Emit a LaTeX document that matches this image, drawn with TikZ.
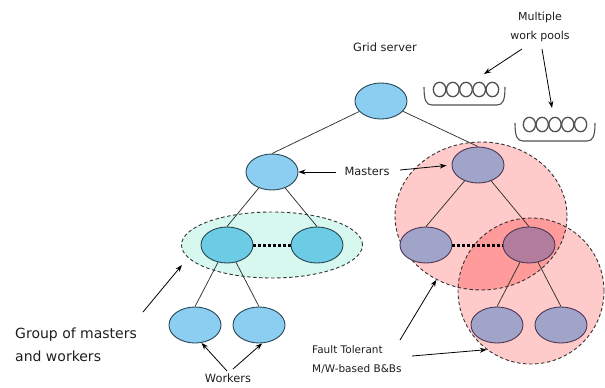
\documentclass[tikz,border=0pt]{standalone}
\usepackage{fontspec}
\setmainfont{DejaVu Sans}
\usetikzlibrary{shapes.geometric,arrows.meta}

\definecolor{skyfill}{RGB}{140,206,242}
\definecolor{cyanfill}{RGB}{108,204,230}
\definecolor{nodeline}{RGB}{40,70,85}
\definecolor{mintfill}{RGB}{214,248,238}
\definecolor{pinkfill}{RGB}{255,202,202}
\definecolor{overlapfill}{RGB}{255,155,155}
\definecolor{lilacfill}{RGB}{161,164,201}
\definecolor{mauvefill}{RGB}{178,124,156}
\definecolor{lilacline}{RGB}{75,55,85}
\definecolor{poolline}{RGB}{80,80,80}
\definecolor{inkgray}{RGB}{30,30,30}

\begin{document}
\begin{tikzpicture}[x=1pt,y=-1pt,
  every node/.style={inner sep=0pt, text=inkgray},
  host/.style={ellipse, draw=nodeline, line width=0.9pt,
    minimum width=52pt, minimum height=36pt},
  ftnode/.style={host, draw=lilacline, fill=lilacfill},
  region/.style={ellipse, draw=black!80, dashed, line width=0.9pt,
    dash pattern=on 3.5pt off 2.5pt},
  edge/.style={draw=black!80, line width=0.75pt},
  peer/.style={draw=black, line width=3pt, dash pattern=on 3pt off 2pt},
  pointer/.style={draw=black, line width=0.8pt, -{Stealth[length=7pt,width=5pt]}},
  label/.style={font=\fontsize{11.4}{13}\selectfont},
  biglabel/.style={font=\fontsize{14}{23}\selectfont},
  ball/.style={draw=poolline, line width=1.3pt},
  tray/.style={draw=poolline, line width=1.1pt}
]
\useasboundingbox (0,0) rectangle (605,388);

% fault-tolerant regions and their overlap
\node[region, fill=pinkfill, draw=none, minimum width=172pt, minimum height=148pt] (ftA) at (481,216) {};
\node[region, fill=pinkfill, draw=none, minimum width=146pt, minimum height=146pt] (ftB) at (531,291) {};
\begin{scope}
  \clip (481,216) ellipse [x radius=86, y radius=74];
  \fill[overlapfill] (531,291) ellipse [x radius=73, y radius=73];
\end{scope}
\node[region, minimum width=172pt, minimum height=148pt] at (481,216) {};
\node[region, minimum width=146pt, minimum height=146pt] at (531,291) {};

% group of masters and workers
\node[region, fill=mintfill, minimum width=181pt, minimum height=66pt] (grp) at (272,245) {};

% hosts
\node[host, fill=skyfill] (root) at (381,101) {};
\node[host, fill=skyfill] (lm) at (272,172) {};
\node[host, fill=cyanfill] (g1) at (227,245) {};
\node[host, fill=cyanfill] (g2) at (317,245) {};
\node[host, fill=skyfill] (wk1) at (195,325) {};
\node[host, fill=skyfill] (wk2) at (259,325) {};
\node[ftnode] (rm) at (478,165) {};
\node[ftnode] (f1) at (426,245) {};
\node[ftnode, fill=mauvefill] (f2) at (529,245) {};
\node[ftnode] (fb1) at (497,325) {};
\node[ftnode] (fb2) at (561,325) {};

% tree edges
\path[edge] (root) -- (lm.north);
\path[edge] (root) -- (rm.north);
\path[edge] (lm) -- (g1.north);
\path[edge] (lm) -- (g2.north);
\path[edge] (g1) -- (wk1.north);
\path[edge] (g1) -- (wk2.north);
\path[edge] (rm) -- (f1.north);
\path[edge] (rm) -- (f2.north);
\path[edge] (f2) -- (fb1.north);
\path[edge] (f2) -- (fb2.north);

% peer links
\path[peer] (g1.east) -- (g2.west);
\path[peer] (f1.east) -- (f2.west);

% work pools
\foreach \cx in {439.6,452.8,466,479.2,492.4}
  \draw[ball] (\cx,89.5) ellipse [x radius=6.3, y radius=7.2];
\draw[tray] (424,87) .. controls (424,100) and (426,105) .. (432,105)
  -- (497,105) .. controls (503,105) and (505,100) .. (505,87);
\foreach \cx in {529.4,542.2,555,567.8,580.6}
  \draw[ball] (\cx,124.5) ellipse [x radius=6.1, y radius=7.2];
\draw[tray] (515,123) .. controls (515,136) and (517,141) .. (523,141)
  -- (587,141) .. controls (593,141) and (595,136) .. (595,123);
\coordinate (poolA) at (484,74);
\coordinate (poolB) at (552,108);

% labels
\node[label] (gs) at (385,47) {Grid server};
\node[label, align=center, font=\fontsize{11}{19}\selectfont] (mwp) at (540,27) {Multiple\\work pools};
\node[label] (mst) at (367,171) {Masters};
\node[label] (wkr) at (228,378) {Workers};
\node[biglabel, anchor=west, align=left] (gmw) at (15,345) {Group of masters\\and workers};
\node[label, anchor=west, align=left, font=\fontsize{10.5}{19}\selectfont] (ftl) at (312,359) {Fault Tolerant\\M/W-based B\&Bs};

% pointers
\coordinate (mwpA) at (522,49);
\coordinate (mwpB) at (542,49);
\draw[pointer] (mwpA) -- (poolA);
\draw[pointer] (mwpB) -- (poolB);
\coordinate (mstL) at (336,172);
\coordinate (mstR) at (400,170);
\draw[pointer] (mstL) -- (lm.east);
\draw[pointer, shorten >=5pt] (mstR) -- (rm.west);
\coordinate (wkrL) at (227,371);
\coordinate (wkrR) at (233,369);
\draw[pointer] (wkrL) -- (wk1.290);
\draw[pointer] (wkrR) -- (wk2.280);
\coordinate (gmwTail) at (143,312);
\coordinate (grpTip) at (182,265);
\draw[pointer] (gmwTail) -- (grpTip);
\coordinate (ftlA) at (400,340);
\coordinate (ftlB) at (412,356);
\draw[pointer] (ftlA) -- (ftA.235.5);
\draw[pointer] (ftlB) -- (ftB.233);
\end{tikzpicture}
\end{document}
